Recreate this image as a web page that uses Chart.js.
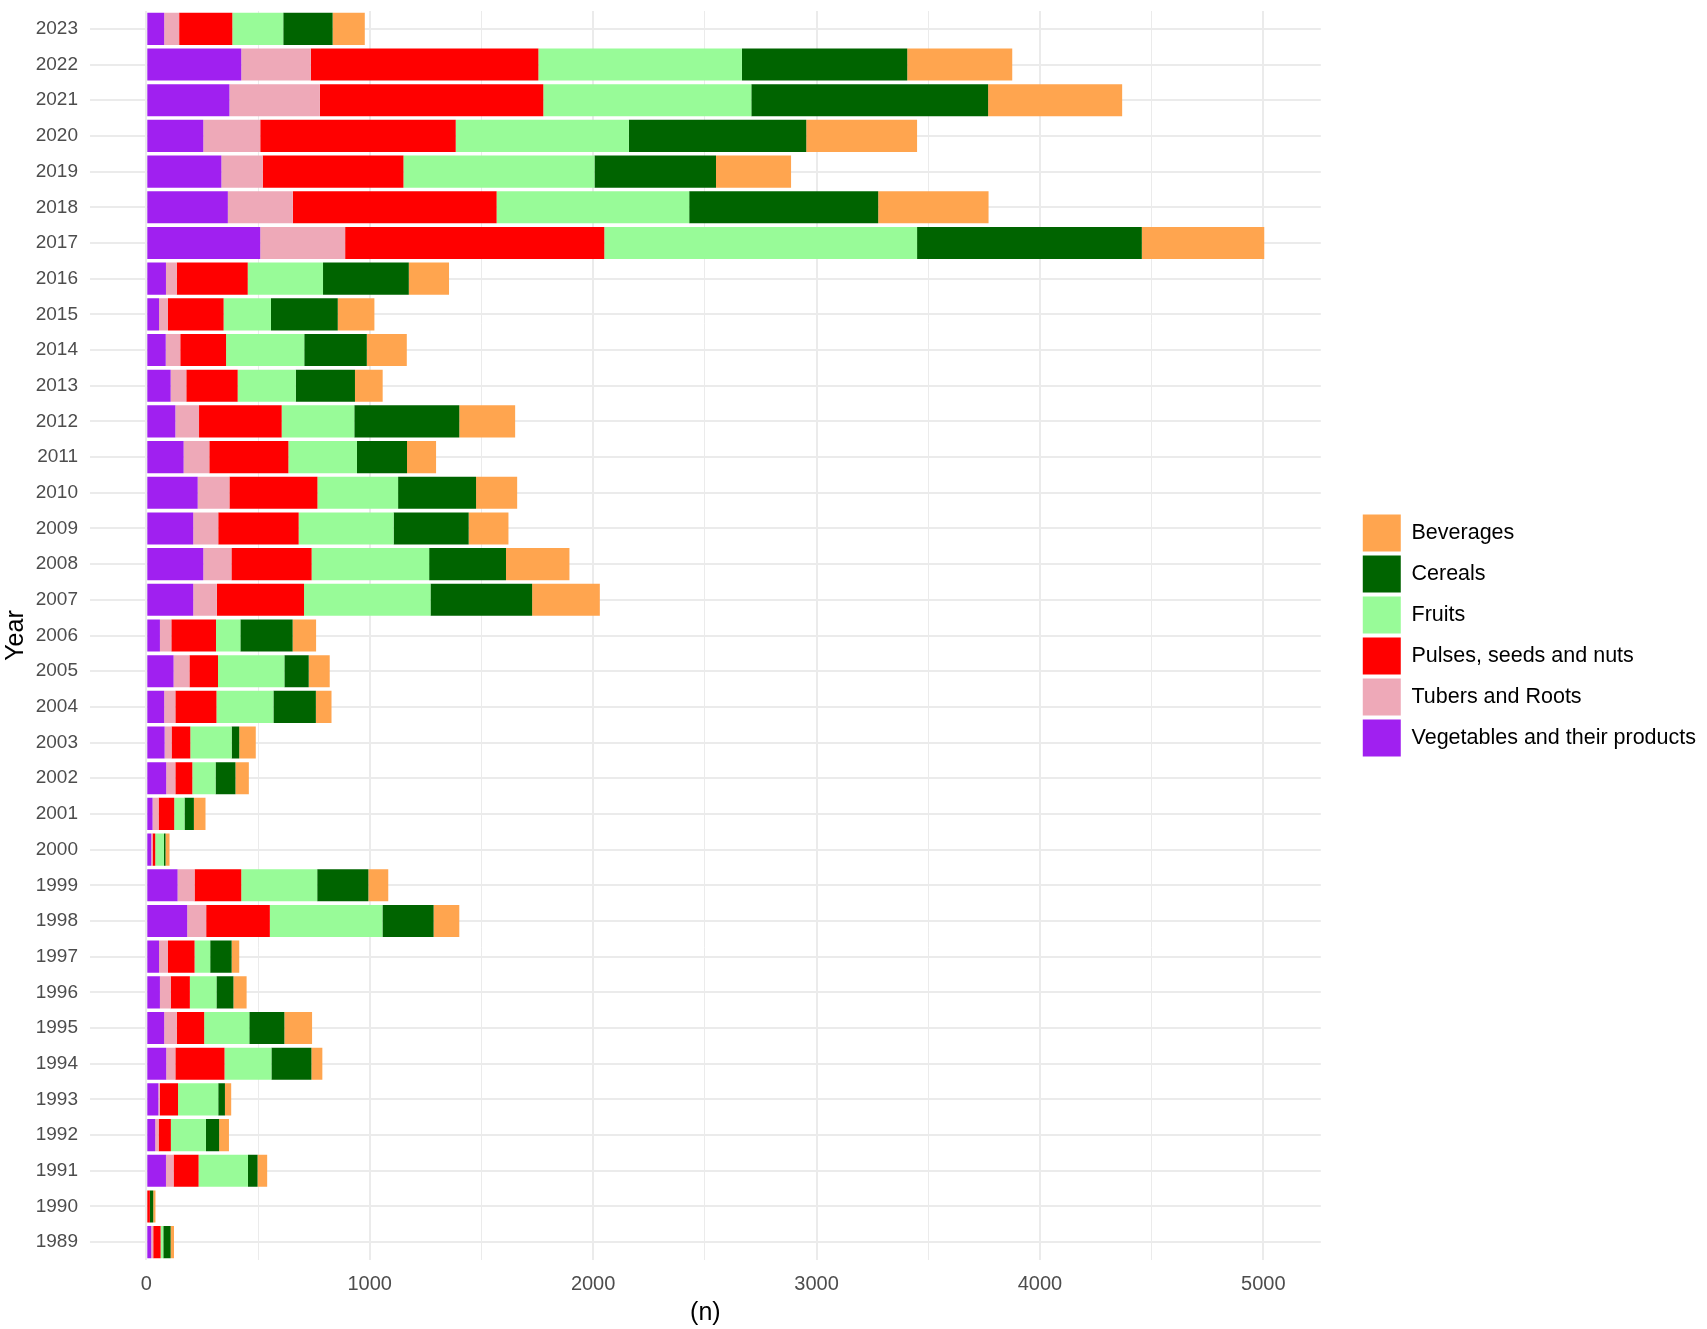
<!DOCTYPE html>
<html>
<head>
<meta charset="utf-8">
<title>Records per food group and year</title>
<script src="https://cdn.jsdelivr.net/npm/chart.js@4.4.1/dist/chart.umd.min.js"></script>
<style>
    html, body { margin: 0; padding: 0; background: #ffffff; }
    #foodGroupBarChart { display: block; }
</style>
</head>
<body>
<canvas id="foodGroupBarChart" width="1707" height="1329"></canvas>
<script>
// Years as shown top to bottom
const years = ['2023', '2022', '2021', '2020', '2019', '2018', '2017', '2016', '2015', '2014',
    '2013', '2012', '2011', '2010', '2009', '2008', '2007', '2006', '2005', '2004',
    '2003', '2002', '2001', '2000', '1999', '1998', '1997', '1996', '1995', '1994',
    '1993', '1992', '1991', '1990', '1989'];

// Counts per food group, same order as years
const vegetables = [80, 425, 372, 255, 336, 365, 510, 88, 57, 87, 109, 130, 167, 230, 210, 255, 210, 61, 122, 80,
    82, 89, 28, 22, 140, 183, 57, 61, 80, 89, 54, 40, 88, 0, 22];
const tubers = [67, 311, 405, 255, 185, 291, 380, 48, 40, 65, 70, 106, 115, 142, 112, 126, 106, 51, 71, 50,
    31, 41, 27, 6, 76, 85, 40, 48, 56, 41, 7, 15, 34, 0, 9];
const pulses = [238, 1019, 1000, 875, 630, 912, 1160, 318, 249, 205, 230, 370, 354, 394, 360, 359, 390, 200, 128, 184,
    84, 76, 70, 12, 209, 285, 119, 86, 123, 220, 81, 55, 112, 16, 33];
const fruits = [228, 911, 931, 775, 855, 862, 1400, 337, 212, 350, 260, 325, 307, 361, 425, 526, 566, 109, 297, 255,
    185, 104, 46, 39, 340, 504, 70, 119, 202, 210, 180, 157, 221, 0, 12];
const cereals = [221, 740, 1060, 794, 544, 846, 1006, 384, 299, 280, 265, 470, 224, 349, 336, 344, 455, 234, 109, 190,
    34, 89, 42, 7, 229, 229, 96, 76, 157, 179, 30, 59, 43, 15, 33];
const beverages = [144, 470, 600, 496, 336, 494, 548, 180, 164, 179, 124, 250, 130, 184, 178, 284, 303, 105, 94, 70,
    74, 60, 52, 18, 89, 115, 34, 59, 124, 49, 28, 44, 43, 10, 15];

const xTicks = [0, 1000, 2000, 3000, 4000, 5000];

document.addEventListener("DOMContentLoaded", () => {
    const ctx = document.getElementById('foodGroupBarChart')?.getContext('2d');

    if (!ctx) {
        console.error('Chart element not found');
        return;
    }

    const fontFamily = '"Liberation Sans", Arial, sans-serif';

    // stacking starts from the first dataset, legend is shown reversed
    const series = [
        { label: 'Vegetables and their products', data: vegetables, color: '#A020F0' },
        { label: 'Tubers and Roots', data: tubers, color: '#EEA9B8' },
        { label: 'Pulses, seeds and nuts', data: pulses, color: '#FF0000' },
        { label: 'Fruits', data: fruits, color: '#98FB98' },
        { label: 'Cereals', data: cereals, color: '#006400' },
        { label: 'Beverages', data: beverages, color: '#FFA54F' }
    ];

    new Chart(ctx, {
        type: 'bar',
        data: {
            labels: years,
            datasets: series.map(s => ({
                label: s.label,
                data: s.data,
                backgroundColor: s.color,
                borderWidth: 0,
                barPercentage: 0.9,
                categoryPercentage: 1.0
            }))
        },
        options: {
            indexAxis: 'y',
            responsive: false,
            animation: false,
            layout: {
                autoPadding: false,
                padding: { left: 0, right: 1, top: 11, bottom: 0 }
            },
            plugins: {
                tooltip: { enabled: false },
                legend: {
                    position: 'right',
                    fullSize: false,
                    reverse: true,
                    maxWidth: 420,
                    labels: {
                        boxWidth: 38,
                        boxHeight: 37,
                        padding: 4,
                        color: '#000000',
                        font: { family: fontFamily, size: 21.5 }
                    }
                }
            },
            scales: {
                x: {
                    type: 'linear',
                    stacked: true,
                    min: -252,
                    max: 5257,
                    afterFit: (axis) => {
                        axis.height = 69;
                        axis.paddingLeft = 0;
                        axis.paddingRight = 0;
                    },
                    afterBuildTicks: (axis) => {
                        const ticks = [];
                        for (let v = 0; v <= 5000; v += 500) ticks.push({ value: v });
                        axis.ticks = ticks;
                    },
                    ticks: {
                        padding: 12,
                        color: '#4D4D4D',
                        font: { family: fontFamily, size: 20 },
                        callback: (value) => xTicks.includes(value) ? String(value) : ''
                    },
                    grid: {
                        color: '#EBEBEB',
                        lineWidth: (c) => (c.tick && c.tick.value % 1000 === 0) ? 2 : 1,
                        drawTicks: false
                    },
                    border: { display: false },
                    title: {
                        display: true,
                        text: '(n)',
                        color: '#000000',
                        font: { family: fontFamily, size: 25 },
                        padding: { top: 0, bottom: 1 }
                    }
                },
                y: {
                    type: 'category',
                    stacked: true,
                    offset: true,
                    afterFit: (axis) => {
                        axis.width = 90;
                        axis.paddingTop = 0;
                        axis.paddingBottom = 0;
                    },
                    ticks: {
                        padding: 12,
                        color: '#4D4D4D',
                        font: { family: fontFamily, size: 19 }
                    },
                    grid: {
                        color: '#EBEBEB',
                        lineWidth: 2,
                        offset: false,
                        drawTicks: false
                    },
                    border: { display: false },
                    title: {
                        display: true,
                        text: 'Year',
                        color: '#000000',
                        font: { family: fontFamily, size: 25 },
                        padding: { top: 1, bottom: 0 }
                    }
                },
                // empty axis that keeps the gap between the plot and the legend
                gap: {
                    type: 'linear',
                    axis: 'y',
                    position: 'right',
                    display: true,
                    afterFit: (axis) => {
                        axis.width = 38;
                        axis.paddingTop = 0;
                        axis.paddingBottom = 0;
                    },
                    ticks: { display: false },
                    grid: { display: false, drawTicks: false },
                    border: { display: false }
                }
            }
        }
    });
});
</script>
</body>
</html>
